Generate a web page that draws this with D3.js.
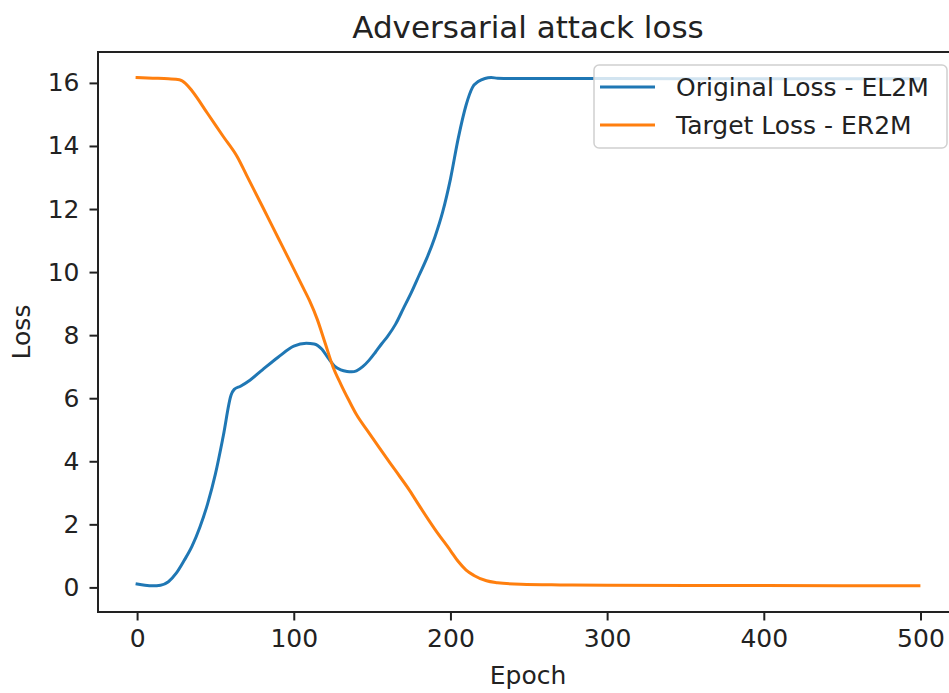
<!DOCTYPE html>
<meta charset="utf-8">
<html>
<head>
    <script src="https://d3js.org/d3.v7.min.js"></script>
    <style>
      body { margin: 0; background: #fff; }
      text { font-family: "DejaVu Sans", sans-serif; fill: #222; }
    </style>
</head>
<body>
<div id="myKeeper"></div>
<script>
    // Original Loss - EL2M
    const blueEpochs = [0, 5, 10, 15, 20, 25, 30, 35, 40, 45, 50, 55, 60, 62, 66, 72, 80, 90, 100, 108, 113, 118, 122, 126, 130, 134, 137, 140, 144, 148, 152, 156, 160, 165, 170, 175, 180, 185, 190, 195, 200, 205, 210, 214, 218, 222, 226, 230, 240, 260, 300, 400, 499];
    const blueLoss = [0.11, 0.07, 0.05, 0.07, 0.18, 0.45, 0.85, 1.3, 1.9, 2.65, 3.6, 4.8, 6.1, 6.28, 6.38, 6.57, 6.9, 7.3, 7.65, 7.74, 7.72, 7.55, 7.27, 7.02, 6.9, 6.85, 6.84, 6.87, 7.0, 7.2, 7.45, 7.72, 7.97, 8.35, 8.85, 9.35, 9.9, 10.45, 11.1, 11.9, 12.95, 14.25, 15.3, 15.85, 16.05, 16.14, 16.17, 16.15, 16.14, 16.14, 16.14, 16.13, 16.13];

    // Target Loss - ER2M
    const orangeEpochs = [0, 10, 20, 27, 31, 35, 45, 55, 64, 70, 80, 90, 98, 105, 110, 115, 120, 125, 130, 135, 140, 147, 155, 165, 174, 180, 190, 200, 205, 210, 215, 223, 230, 245, 270, 300, 400, 499];
    const orangeLoss = [16.17, 16.15, 16.13, 16.1, 15.98, 15.75, 15.03, 14.3, 13.65, 13.06, 12.08, 11.09, 10.3, 9.6, 9.1, 8.5, 7.75, 7.0, 6.45, 5.95, 5.48, 4.97, 4.4, 3.7, 3.07, 2.6, 1.85, 1.17, 0.82, 0.55, 0.38, 0.21, 0.15, 0.1, 0.08, 0.07, 0.06, 0.05];

    const xTicks = [0, 100, 200, 300, 400, 500];
    const yTicks = [0, 2, 4, 6, 8, 10, 12, 14, 16];
    const seriesNames = ["Original Loss - EL2M", "Target Loss - ER2M"];
    const seriesColors = ["#1f77b4", "#ff7f0e"];

    // dimensions
    const W = 949, H = 693;
    const margin = { top: 52, left: 98, right: 958, bottom: 612 };

    const svg = d3.select("#myKeeper")
        .append("svg")
        .attr("width", W)
        .attr("height", H);

    const x = d3.scaleLinear().domain([-24.95, 523.95]).range([margin.left, margin.right]);
    const y = d3.scaleLinear().domain([-0.78, 16.98]).range([margin.bottom, margin.top]);

    // x axis
    const gx = svg.append("g")
        .attr("transform", `translate(0,${margin.bottom})`)
        .call(d3.axisBottom(x).tickValues(xTicks).tickSize(8.5).tickPadding(9).tickFormat(d3.format("d")));
    // y axis
    const gy = svg.append("g")
        .attr("transform", `translate(${margin.left},0)`)
        .call(d3.axisLeft(y).tickValues(yTicks).tickSize(8.5).tickPadding(10).tickFormat(d3.format("d")));

    [gx, gy].forEach(g => {
        g.select(".domain").remove();
        g.selectAll(".tick line").attr("stroke", "#222").attr("stroke-width", 2);
        g.selectAll(".tick text").style("font-size", "25px").attr("fill", "#222")
            .style("font-family", '"DejaVu Sans", sans-serif');
    });

    // lines
    const line = d3.line()
        .x(d => x(d[0]))
        .y(d => y(d[1]))
        .curve(d3.curveMonotoneX);

    const series = [
        d3.zip(blueEpochs, blueLoss),
        d3.zip(orangeEpochs, orangeLoss)
    ];

    series.forEach((s, i) => {
        svg.append("path")
            .datum(s)
            .attr("d", line)
            .attr("fill", "none")
            .attr("stroke", seriesColors[i])
            .attr("stroke-width", 3)
            .attr("stroke-linejoin", "round")
            .attr("stroke-linecap", "square");
    });

    // frame
    svg.append("rect")
        .attr("x", margin.left)
        .attr("y", margin.top)
        .attr("width", margin.right - margin.left)
        .attr("height", margin.bottom - margin.top)
        .attr("fill", "none")
        .attr("stroke", "#222")
        .attr("stroke-width", 2);

    // title and labels
    svg.append("text")
        .attr("x", (margin.left + margin.right) / 2)
        .attr("y", 38)
        .attr("text-anchor", "middle")
        .style("font-size", "31px")
        .text("Adversarial attack loss");

    svg.append("text")
        .attr("x", (margin.left + margin.right) / 2)
        .attr("y", 684)
        .attr("text-anchor", "middle")
        .style("font-size", "25px")
        .text("Epoch");

    svg.append("text")
        .attr("transform", `translate(30,${(margin.top + margin.bottom) / 2}) rotate(-90)`)
        .attr("text-anchor", "middle")
        .style("font-size", "25px")
        .text("Loss");

    // legend
    const legend = svg.append("g");
    legend.append("rect")
        .attr("x", 594)
        .attr("y", 65)
        .attr("width", 353)
        .attr("height", 83)
        .attr("rx", 5)
        .attr("fill", "white")
        .attr("fill-opacity", 0.8)
        .attr("stroke", "#d0d0d0")
        .attr("stroke-width", 1.5);

    seriesNames.forEach((name, i) => {
        const ly = 87 + i * 38;
        legend.append("line")
            .attr("x1", 600).attr("x2", 655)
            .attr("y1", ly).attr("y2", ly)
            .attr("stroke", seriesColors[i])
            .attr("stroke-width", 3);
        legend.append("text")
            .attr("x", 676)
            .attr("y", ly + 9)
            .style("font-size", "25px")
            .text(name);
    });
</script>
</body>
</html>
